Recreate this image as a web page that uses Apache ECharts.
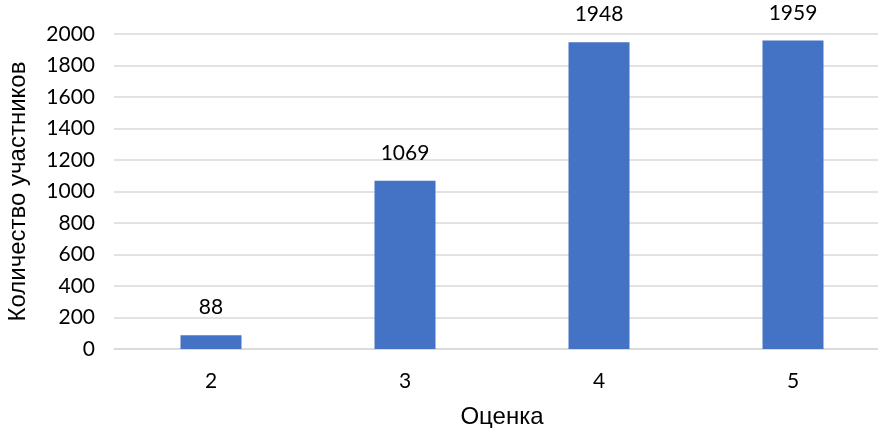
<!DOCTYPE html>
<html><head><meta charset="utf-8">
<script src="https://cdn.jsdelivr.net/npm/echarts@6/dist/echarts.min.js"></script>
<style>html,body{margin:0;padding:0;background:#fff;overflow:hidden;width:878px;height:428px}
#w{width:878px;height:428px;overflow:hidden;position:relative}#c{width:890px;height:428px;position:absolute;left:0;top:0}</style>
</head><body><div id="w"><div id="c"></div></div>
<script>
const categories = ['2', '3', '4', '5'];
const values = [88, 1069, 1948, 1959];
const yTicks = [0, 200, 400, 600, 800, 1000, 1200, 1400, 1600, 1800, 2000];
const xTitle = 'Оценка';
const yTitle = 'Количество участников';

const font = 'Lato, "Open Sans", sans-serif';
const tfont = '"Liberation Sans", Arial, sans-serif';
const chart = echarts.init(document.getElementById('c'));
chart.setOption({
  animation: false,
  grid: { left: 114, right: 0, top: 34, bottom: 79, outerBoundsMode: 'none', containLabel: false },
  xAxis: {
    type: 'category', data: categories,
    name: xTitle, nameLocation: 'middle', nameGap: 56,
    nameTextStyle: { fontFamily: tfont, fontSize: 24, color: '#000' },
    axisLine: { show: true, lineStyle: { color: '#d9d9d9', width: 1.5 } },
    axisTick: { show: false },
    axisLabel: { fontFamily: font, fontSize: 21, color: '#000', margin: 22 }
  },
  yAxis: {
    type: 'value', min: yTicks[0], max: yTicks[yTicks.length - 1], interval: 200,
    name: yTitle, nameLocation: 'middle', nameGap: 84,
    nameTextStyle: { fontFamily: tfont, fontSize: 24, color: '#000' },
    axisLine: { show: false }, axisTick: { show: false },
    splitLine: { lineStyle: { color: '#d9d9d9', width: 1.5 } },
    axisLabel: { fontFamily: font, fontSize: 21, color: '#000', margin: 19, formatter: v => String(v) }
  },
  series: [{
    type: 'bar', data: values, barWidth: 61,
    itemStyle: { color: '#4472c4' },
    label: { show: true, position: 'top', distance: 17, fontFamily: font, fontSize: 21, color: '#000' }
  }]
});
</script></body></html>
